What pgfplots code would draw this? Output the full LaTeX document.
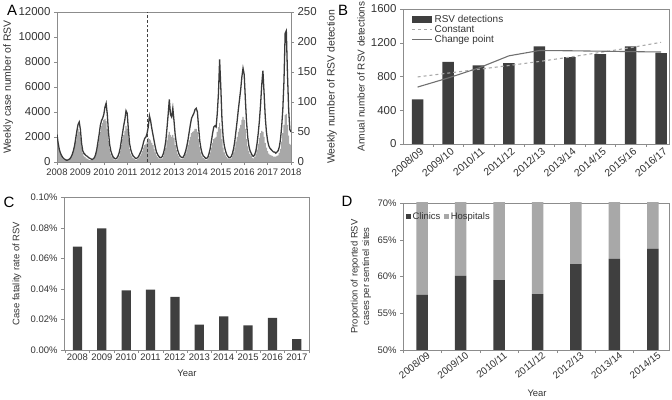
\documentclass[border=0pt]{standalone}
\usepackage{fontspec}
\setmainfont{Liberation Sans}
\usepackage{pgfplots}
\usepackage{pgfplotstable}
\pgfplotsset{compat=1.18}
\definecolor{dk}{HTML}{3F3F3F}
\definecolor{lt}{HTML}{A8A8A8}
\definecolor{ax}{HTML}{8C8C8C}
\definecolor{tx}{HTML}{333333}
\definecolor{ln}{HTML}{3A3A3A}

\pgfplotstableread[row sep=\\]{
x c d\\
2008.00 2200 40\\ 2008.05 1500 30\\ 2008.10 1000 20\\ 2008.15 700 15\\ 2008.20 500 10\\
2008.25 350 6\\ 2008.30 250 4\\ 2008.35 200 3\\ 2008.40 150 2\\ 2008.45 150 3\\
2008.50 200 3\\ 2008.55 250 5\\ 2008.60 400 8\\ 2008.65 600 12\\ 2008.70 900 18\\
2008.75 1300 25\\ 2008.80 1900 35\\ 2008.85 2500 45\\ 2008.90 3000 55\\ 2008.95 3200 50\\
2009.00 2600 40\\ 2009.05 1500 25\\ 2009.10 900 15\\ 2009.15 700 10\\ 2009.20 600 8\\
2009.25 500 6\\ 2009.30 450 5\\ 2009.35 350 4\\ 2009.40 300 3\\ 2009.45 250 3\\
2009.50 200 3\\ 2009.55 250 4\\ 2009.60 350 6\\ 2009.65 600 10\\ 2009.70 1000 20\\
2009.75 1600 30\\ 2009.80 2200 40\\ 2009.85 2900 50\\ 2009.90 3300 60\\ 2009.95 3500 65\\
2010.00 3800 70\\ 2010.05 4400 72\\ 2010.10 4700 68\\ 2010.15 3800 55\\ 2010.20 2400 35\\
2010.25 1400 22\\ 2010.30 900 14\\ 2010.35 600 9\\ 2010.40 400 6\\ 2010.45 300 4\\
2010.50 250 3\\ 2010.55 300 4\\ 2010.60 450 6\\ 2010.65 700 10\\ 2010.70 1100 18\\
2010.75 1700 28\\ 2010.80 2300 38\\ 2010.85 2900 45\\ 2010.90 3400 52\\ 2010.95 4100 60\\
2011.00 3900 55\\ 2011.05 2600 38\\ 2011.10 1500 22\\ 2011.15 1000 14\\ 2011.20 700 10\\
2011.25 500 7\\ 2011.30 400 5\\ 2011.35 300 4\\ 2011.40 300 4\\ 2011.45 350 5\\
2011.50 500 7\\ 2011.55 700 10\\ 2011.60 900 14\\ 2011.65 1200 18\\ 2011.70 1600 24\\
2011.75 1900 28\\ 2011.80 2000 30\\ 2011.85 2300 34\\ 2011.90 2800 40\\ 2011.95 3700 38\\
2012.00 3300 36\\ 2012.05 2700 32\\ 2012.10 2200 28\\ 2012.15 1700 22\\ 2012.20 1200 16\\
2012.25 800 11\\ 2012.30 600 8\\ 2012.35 450 6\\ 2012.40 350 5\\ 2012.45 350 5\\
2012.50 450 6\\ 2012.55 700 10\\ 2012.60 1100 16\\ 2012.65 1700 24\\ 2012.70 2700 36\\
2012.75 3800 45\\ 2012.80 5000 50\\ 2012.85 3800 45\\ 2012.90 3600 42\\ 2012.95 4300 45\\
2013.00 3300 40\\ 2013.05 2200 28\\ 2013.10 1500 20\\ 2013.15 1000 14\\ 2013.20 700 10\\
2013.25 500 7\\ 2013.30 400 5\\ 2013.35 350 5\\ 2013.40 400 6\\ 2013.45 600 9\\
2013.50 900 14\\ 2013.55 1300 20\\ 2013.60 1800 28\\ 2013.65 2400 36\\ 2013.70 3000 42\\
2013.75 3500 48\\ 2013.80 3700 50\\ 2013.85 3900 52\\ 2013.90 4200 55\\ 2013.95 4300 55\\
2014.00 4000 50\\ 2014.05 2800 38\\ 2014.10 1700 25\\ 2014.15 1100 16\\ 2014.20 700 10\\
2014.25 500 7\\ 2014.30 400 5\\ 2014.35 300 4\\ 2014.40 300 4\\ 2014.45 400 6\\
2014.50 700 10\\ 2014.55 1100 16\\ 2014.60 1700 24\\ 2014.65 2300 32\\ 2014.70 2800 38\\
2014.75 2900 40\\ 2014.80 2800 42\\ 2014.85 3900 50\\ 2014.90 5500 58\\ 2014.95 8200 65\\
2015.00 6000 55\\ 2015.05 3400 38\\ 2015.10 2000 24\\ 2015.15 1300 16\\ 2015.20 900 11\\
2015.25 600 8\\ 2015.30 450 6\\ 2015.35 350 5\\ 2015.40 350 5\\ 2015.45 450 6\\
2015.50 700 10\\ 2015.55 1100 16\\ 2015.60 1700 24\\ 2015.65 2500 34\\ 2015.70 3300 42\\
2015.75 4200 50\\ 2015.80 5000 56\\ 2015.85 5800 62\\ 2015.90 6800 70\\ 2015.95 7500 75\\
2016.00 7000 70\\ 2016.05 5000 55\\ 2016.10 3200 38\\ 2016.15 2000 26\\ 2016.20 1300 18\\
2016.25 900 13\\ 2016.30 700 10\\ 2016.35 500 7\\ 2016.40 450 6\\ 2016.45 600 8\\
2016.50 900 13\\ 2016.55 1500 20\\ 2016.60 2300 30\\ 2016.65 3300 40\\ 2016.70 4600 48\\
2016.75 6200 52\\ 2016.80 7300 50\\ 2016.85 5500 42\\ 2016.90 3600 32\\ 2016.95 2400 24\\
2017.00 1700 18\\ 2017.05 1300 14\\ 2017.10 1100 12\\ 2017.15 1000 11\\ 2017.20 900 10\\
2017.25 800 9\\ 2017.30 800 9\\ 2017.35 700 9\\ 2017.40 800 10\\ 2017.45 900 11\\
2017.50 1200 15\\ 2017.55 1800 22\\ 2017.60 2800 34\\ 2017.65 4200 48\\ 2017.70 6500 62\\
2017.75 10300 78\\ 2017.80 10500 80\\ 2017.85 7000 62\\ 2017.90 4200 44\\ 2017.95 2600 30\\
2018.00 2400 28\\
}\weekly

\pgfplotsset{
  base/.style={
    scale only axis,
    axis line style={ax},
    every tick/.style={ax},
    tick align=outside,
    major tick length=3bp,
    minor tick length=3bp,
    ticklabel style={text=tx},
    label style={text=tx},
    /pgf/number format/assume math mode=true,
    /pgf/number format/1000 sep={},
  }
}

\begin{document}
\begin{tikzpicture}
\useasboundingbox (0,0) rectangle (672bp,400bp);

% ---------- Panel A: right axis (detections) ----------
\begin{axis}[base,
  at={(57bp,238bp)}, anchor=south west,
  width=234bp, height=150bp,
  xmin=2008, xmax=2018, ymin=0, ymax=250,
  axis y line*=right, axis x line=none,
  ytick={0,50,...,250},
  yticklabel style={font=\fontsize{11.5}{13}\selectfont},
  ylabel={Weekly number of RSV detection},
  ylabel style={font=\fontsize{10.5}{12}\selectfont, at={(axis description cs:1.175,0.5)}, anchor=center},
]
\addplot[ybar, bar width=0.05, fill=lt, draw=none] table[x=x, y=d] {\weekly};
\end{axis}

% ---------- Panel A: left axis (cases) ----------
\begin{axis}[base,
  at={(57bp,238bp)}, anchor=south west,
  width=234bp, height=150bp,
  xmin=2008, xmax=2018, ymin=0, ymax=12000,
  xtick={2008,...,2018},
  ytick={0,2000,...,12000},
  xtick pos=bottom, ytick pos=left,
  scaled y ticks=false,
  xticklabel style={font=\fontsize{9.5}{11}\selectfont},
  yticklabel style={font=\fontsize{11.5}{13}\selectfont},
  ylabel={Weekly case number of RSV},
  ylabel style={font=\fontsize{10.5}{12}\selectfont, at={(axis description cs:-0.209,0.5)}, anchor=center},
]
\addplot[densely dashed, black!75, line width=0.6pt] coordinates {(2011.85,0) (2011.85,12000)};
\addplot[ln, line width=1.3pt] table[x=x, y=c] {\weekly};
\end{axis}

% ---------- Panel B ----------
\begin{axis}[base,
  at={(403bp,256bp)}, anchor=south west,
  width=266bp, height=135bp,
  xmin=-0.48, xmax=8.26, ymin=0, ymax=1600,
  ytick={0,400,...,1600},
  xtick={-0.5,0.5,...,8.5}, xticklabels={},
  extra x ticks={0,1,...,8},
  extra x tick labels={2008/09,2009/10,2010/11,2011/12,2012/13,2013/14,2014/15,2015/16,2016/17},
  extra x tick style={major tick length=0pt, tick label style={rotate=40, anchor=north east, xshift=3bp, font=\fontsize{10.5}{12}\selectfont}},
  xtick pos=bottom, ytick pos=left,
  yticklabel style={font=\fontsize{11.5}{13}\selectfont},
  ylabel={Annual number of RSV detections},
  ylabel style={font=\fontsize{10}{12}\selectfont, at={(axis description cs:-0.158,0.5)}, anchor=center},
  legend style={at={(0.02,0.985)}, anchor=north west, draw=none, fill=none,
    font=\fontsize{10}{12}\selectfont, row sep=-2.5pt, text=tx},
  legend image code/.code={\draw[#1] (0bp,0bp) -- (20bp,0bp);},
  legend cell align=left,
]
\addplot[ybar, bar width=0.38, fill=dk, draw=none,
  legend image code/.code={\fill[dk] (0bp,-3.5bp) rectangle (20bp,3.5bp);}] coordinates {
(0,530) (1,972) (2,932) (3,958) (4,1158) (5,1030) (6,1065) (7,1158) (8,1077)};
\addlegendentry{RSV detections}
\addplot[dashed, color=lt, line width=1.1pt] coordinates {
(0,795) (1,840) (2,885) (3,930) (4,978) (5,1030) (6,1085) (7,1142) (8,1205)};
\addlegendentry{Constant}
\addplot[color=ax!80!black, line width=1.1pt] coordinates {
(0,675) (1,782) (2,900) (3,1045) (4,1108) (5,1105) (6,1100) (7,1095) (8,1090)};
\addlegendentry{Change point}
\end{axis}

% ---------- Panel C ----------
\begin{axis}[base,
  at={(64bp,50bp)}, anchor=south west,
  width=245bp, height=152.5bp,
  xmin=-0.55, xmax=9.5, ymin=0, ymax=0.1,
  ytick={0,0.02,0.04,0.06,0.08,0.1},
  yticklabels={0.00\%,0.02\%,0.04\%,0.06\%,0.08\%,0.10\%},
  xtick={-0.5,0.5,...,9.5}, xticklabels={},
  extra x ticks={0,1,...,9},
  extra x tick labels={2008,2009,2010,2011,2012,2013,2014,2015,2016,2017},
  extra x tick style={major tick length=0pt, tick label style={font=\fontsize{9.5}{11}\selectfont}},
  xtick pos=bottom, ytick pos=left,
  yticklabel style={font=\fontsize{9.5}{11}\selectfont},
  xlabel={Year}, ylabel={Case fatality rate of RSV},
  label style={font=\fontsize{9.5}{11}\selectfont},
  xlabel style={at={(axis description cs:0.502,-0.151)}, anchor=center},
  ylabel style={at={(axis description cs:-0.192,0.5)}, anchor=center},
]
\addplot[ybar, bar width=0.38, fill=dk, draw=none] coordinates {
(0,0.0678) (1,0.0798) (2,0.0391) (3,0.0396) (4,0.0348) (5,0.0167) (6,0.0220) (7,0.0161) (8,0.0211) (9,0.0072)};
\end{axis}

% ---------- Panel D ----------
\begin{axis}[base,
  at={(403bp,50bp)}, anchor=south west,
  width=266bp, height=147bp,
  ybar stacked, bar width=0.3,
  xmin=-0.5, xmax=6.42, ymin=50, ymax=70,
  ytick={50,55,60,65,70},
  yticklabels={50\%,55\%,60\%,65\%,70\%},
  xtick={-0.5,0.5,...,6.5}, xticklabels={},
  extra x ticks={0,1,...,6},
  extra x tick labels={2008/09,2009/10,2010/11,2011/12,2012/13,2013/14,2014/15},
  extra x tick style={major tick length=0pt, tick label style={rotate=38, anchor=north east, xshift=6bp, font=\fontsize{10}{12}\selectfont}},
  xtick pos=bottom, ytick pos=left,
  yticklabel style={font=\fontsize{9.5}{11}\selectfont},
  xlabel={Year},
  ylabel={Proportion of reported RSV\\cases per sentinel sites},
  label style={font=\fontsize{9.5}{11.5}\selectfont},
  xlabel style={at={(axis description cs:0.504,-0.293)}, anchor=center},
  ylabel style={align=center, at={(axis description cs:-0.158,0.5)}, anchor=center},
  legend style={at={(0.0,0.965)}, anchor=north west, draw=none, fill=none,
    font=\fontsize{9.5}{11}\selectfont, legend columns=2, text=tx,
    /tikz/every even column/.append style={column sep=2bp}},
  legend image code/.code={\fill[#1] (0bp,-2.2bp) rectangle (4.4bp,2.2bp);},
]
\addplot[fill=dk, draw=none] coordinates {
(0,57.5) (1,60.1) (2,59.5) (3,57.6) (4,61.7) (5,62.4) (6,63.8)};
\addlegendentry{Clinics}
\addplot[fill=lt, draw=none] coordinates {
(0,42.5) (1,39.9) (2,40.5) (3,42.4) (4,38.3) (5,37.6) (6,36.2)};
\addlegendentry{Hospitals}
\end{axis}

% panel letters
\node[font=\fontsize{15}{17}\selectfont, text=black] at (12bp,390bp) {A};
\node[font=\fontsize{15}{17}\selectfont, text=black] at (343bp,390bp) {B};
\node[font=\fontsize{15}{17}\selectfont, text=black] at (9bp,198bp) {C};
\node[font=\fontsize{15}{17}\selectfont, text=black] at (347bp,199bp) {D};
\end{tikzpicture}
\end{document}
